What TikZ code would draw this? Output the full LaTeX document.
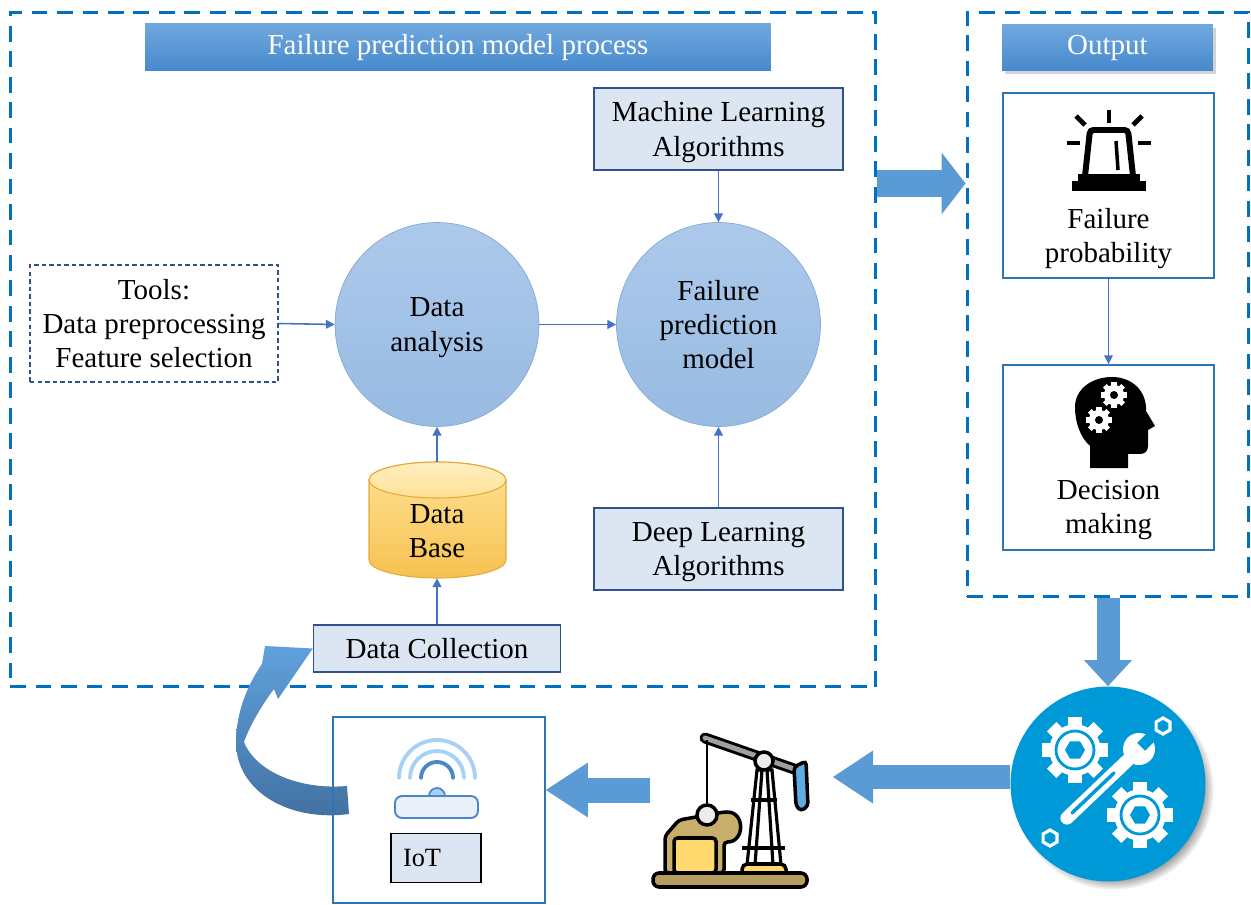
\documentclass[tikz,border=0pt]{standalone}
\usepackage{fontspec}
\setmainfont{Liberation Serif}
\usetikzlibrary{arrows.meta,shadows}

\definecolor{frameblue}{RGB}{0,112,192}
\definecolor{barTop}{RGB}{112,168,222}
\definecolor{barBot}{RGB}{70,137,205}
\definecolor{boxfill}{RGB}{220,230,242}
\definecolor{boxline}{RGB}{47,82,143}
\definecolor{ballTop}{RGB}{172,201,235}
\definecolor{ballBot}{RGB}{152,187,226}
\definecolor{ballLine}{RGB}{130,170,215}
\definecolor{linkblue}{RGB}{68,114,196}
\definecolor{fatblue}{RGB}{91,155,213}
\definecolor{outline}{RGB}{46,117,182}
\definecolor{dbTop}{RGB}{255,226,150}
\definecolor{dbBot}{RGB}{247,193,80}
\definecolor{dbLine}{RGB}{226,170,60}
\definecolor{maintblue}{RGB}{0,153,216}
\definecolor{pumptan}{RGB}{201,173,106}
\definecolor{pumpyellow}{RGB}{255,217,112}
\definecolor{horseblue}{RGB}{93,173,226}
\definecolor{wifilight}{RGB}{168,209,247}
\definecolor{wifidark}{RGB}{74,134,200}
\definecolor{curveTop}{RGB}{96,160,220}
\definecolor{curveBot}{RGB}{65,112,160}

\tikzset{
  dashframe/.style={draw=frameblue, line width=1.7pt, dash pattern=on 9pt off 5.5pt, inner sep=0pt},
  headbar/.style={top color=barTop, bottom color=barBot, text=white, inner sep=0pt},
  algobox/.style={draw=boxline, fill=boxfill, line width=0.9pt, align=center, inner sep=0pt},
  ball/.style={circle, draw=ballLine, top color=ballTop, bottom color=ballBot, minimum size=4.08cm, align=center, inner sep=0pt},
  outbox/.style={draw=outline, line width=1.1pt, minimum width=4.22cm, minimum height=3.7cm, inner sep=0pt},
  nodepth/.style={text depth=0pt},
  link/.style={linkblue, line width=0.9pt, -{Triangle[length=5pt,width=5pt]}},
  fatarrow/.style args={#1/#2/#3}{fatblue, line width=#1, -{Triangle[length=#2, width=#3, line width=0pt]}},
  cog/.pic={
    \fill (0,0) circle (0.78);
    \foreach \a in {0,45,...,315}
      \fill[rotate=\a] (-0.2,0) rectangle (0.2,1);
  },
}

\begin{document}
\begin{tikzpicture}[x=0.02cm, y=-0.02cm, font=\fontsize{16.5}{19.5}\selectfont]
\useasboundingbox (0,0) rectangle (1251,905);

% the two dashed frames and their headers
\node[dashframe, minimum width=17.32cm, minimum height=13.5cm] (proc) at (443,349.5) {};
\node[dashframe, minimum width=5.64cm, minimum height=11.7cm] (outp) at (1108,304.5) {};
\node[headbar, minimum width=12.52cm, minimum height=0.94cm] (title) at (458,47.5) {Failure prediction model process};
\node[headbar, minimum width=4.22cm, minimum height=0.92cm,
      drop shadow={shadow xshift=1.5pt, shadow yshift=-1.5pt, opacity=0.35}] (outtitle) at (1107.5,48) {Output};

% process part
\node[algobox, fill=none, dash pattern=on 2.5pt off 1.8pt, minimum width=4.96cm, minimum height=2.34cm] (tools) at (154,323.5) {Tools:\\Data preprocessing\\Feature selection};
\node[ball, nodepth] (da) at (437,324.5) {Data\\analysis};
\node[ball] (fpm) at (718.5,324.5) {Failure\\prediction\\model};
\node[algobox, nodepth, minimum width=4.98cm, minimum height=1.64cm] (ml) at (718.5,129) {Machine Learning\\Algorithms};
\node[algobox, nodepth, minimum width=4.98cm, minimum height=1.64cm] (dl) at (718.5,549) {Deep Learning\\Algorithms};
\node[algobox, minimum width=4.94cm, minimum height=0.94cm] (collect) at (437,648.5) {Data Collection};

% data base cylinder
\shadedraw[top color=dbTop, bottom color=dbBot, draw=dbLine, line width=0.6pt]
  (369,480) -- (369,560) arc[start angle=180, end angle=0, x radius=68.5, y radius=18]
  -- (506,480) arc[start angle=0, end angle=-180, x radius=68.5, y radius=18] -- cycle;
\shadedraw[top color=dbTop!60!white, bottom color=dbTop, draw=dbLine, line width=0.6pt]
  (437.5,480) ellipse[x radius=68.5, y radius=18];
\node[align=center, minimum width=2.74cm, minimum height=1.88cm, inner sep=0pt] (db) at (437,531) {Data\\Base};

\draw[link] (tools.east) -- (da.west);
\draw[link] (da) -- (fpm);
\draw[link] (ml) -- (fpm);
\draw[link] (dl) -- (fpm);
\draw[link] (collect) -- (db);
\draw[link] ([yshift=0.44cm]db.north) -- (da);

% output part
\node[outbox] (fprob) at (1108.5,185.5) {};
\node[outbox] (decide) at (1108.5,457.5) {};
\node[align=center, nodepth] (fprobtext) at (1108.5,235.5) {Failure\\probability};
\node[align=center, nodepth] (decidetext) at (1108.5,507) {Decision\\making};
\draw[link] (fprob) -- (decide);

% alarm light
\begin{scope}[line width=2.8pt]
  \draw (1109,110) -- (1109,123);
  \draw (1076,116) -- (1085,125);
  \draw (1142,116) -- (1133,125);
  \draw (1067,143) -- (1080,143);
  \draw (1138,143) -- (1151,143);
\end{scope}
\draw[line width=3.4pt, fill=white, rounded corners=2pt] (1085,176) -- (1090,130) -- (1128,130) -- (1133,176);
\draw[line width=2pt] (1116,141) -- (1118,170);
\fill (1078,174) rectangle (1140,181);
\fill (1072,181) rectangle (1146,191);

% head with cogs
\fill (1090,468) -- (1090,446)
  .. controls (1080,437) and (1075,422) .. (1075,407)
  .. controls (1075,389) and (1092,377) .. (1112,377)
  .. controls (1133,377) and (1147,392) .. (1146,411)
  -- (1155,426) -- (1148,430) -- (1148,446)
  .. controls (1148,451) and (1145,454) .. (1140,454)
  -- (1128,454) -- (1128,468) -- cycle;
\pic[white, scale=13] at (1114,395) {cog};
\pic[white, scale=13] at (1099,420) {cog};
\fill (1114,395) circle (4);
\fill (1099,420) circle (4);

% maintenance disc
\node[circle, fill=maintblue, minimum size=3.9cm, inner sep=0pt,
      circular drop shadow={shadow xshift=3pt, shadow yshift=-3pt, shadow scale=1.03}] (maint) at (1108,784) {};
\pic[white, scale=33] at (1075,750) {cog};
\pic[white, scale=33] at (1140,815) {cog};
\foreach \cx/\cy in {1075/750, 1140/815} {
  \draw[maintblue, line width=1.6pt] (\cx,\cy) circle (19);
  \fill[maintblue] (\cx,\cy) +(0:10) -- +(60:10) -- +(120:10) -- +(180:10) -- +(240:10) -- +(300:10) -- cycle;
}
\draw[white, line width=7.5pt, line cap=round] (1067,818) -- (1130,758);
\draw[maintblue, line width=2pt, line cap=round] (1072,813) -- (1114,773);
\fill[white] (1139,749) circle (16);
\fill[maintblue, shift={(1139,749)}, rotate=45] (3,-5.5) rectangle (24,5.5);
\foreach \cx/\cy in {1163/726, 1050/838}
  \draw[white, line width=1.8pt] (\cx,\cy) +(30:8) -- +(90:8) -- +(150:8) -- +(210:8) -- +(270:8) -- +(330:8) -- cycle;

% pump jack
\draw[line width=6.2pt, line cap=round] (705,738) -- (797,770);
\draw[gray!75, line width=2.8pt, line cap=round] (705,738) -- (797,770);
\draw[line width=1.2pt] (707,740) -- (707,808);
\draw[fill=horseblue, line width=2pt, rounded corners=2pt] (794,767) -- (806,761) -- (808,806) -- (801,811) -- (796,806) -- cycle;
\draw[fill=white, line width=1.8pt] (757,770) -- (762,770) -- (755,865) -- (747,865) -- cycle;
\draw[fill=white, line width=1.8pt] (767,770) -- (772,770) -- (781,865) -- (773,865) -- cycle;
\draw[line width=2.8pt] (751,800) -- (777,800);
\draw[line width=2.8pt] (742,848) -- (785,848);
\draw[fill=gray!15, line width=2pt] (764,761) circle (9);
\draw[fill=pumptan, line width=2pt, rounded corners=2pt] (665,873) -- (665,836) -- (679,820) -- (724,812)
  .. controls (745,812) and (745,842) .. (724,842) -- (724,873) -- cycle;
\draw[fill=pumpyellow, line width=2pt, rounded corners=2pt] (674,838) rectangle (716,873);
\draw[fill=gray!15, line width=2pt] (707,815) circle (10);
\draw[fill=pumpyellow, line width=2pt, rounded corners=3pt] (742,873) -- (742,864) -- (786,864) -- (786,873);
\draw[fill=pumptan!90!black, line width=2pt, rounded corners=3.5pt] (653,873) rectangle (807,887);

\coordinate (pumpR) at (833,777);
\coordinate (pumpL) at (650,790);

% block arrows
\draw[fatarrow=0.54cm/0.48cm/1.24cm] (proc.east |- 0,183.5) -- (outp.west |- 0,183.5);
\draw[fatarrow=0.46cm/0.52cm/0.96cm] (outp.south) -- (maint.north);
\draw[fatarrow=0.48cm/0.8cm/1.06cm] (maint.west |- pumpR) -- (pumpR);

% curved arrow back into the process
\shade[top color=curveTop, bottom color=curveBot]
  (349,814) .. controls (290,822) and (236,792) .. (236,742)
  .. controls (236,712) and (248,684) .. (262,664)
  -- (265,646) -- (collect.west) -- (278,699) -- (274,689)
  .. controls (262,705) and (250,725) .. (244,742)
  .. controls (256,772) and (300,790) .. (347,786) -- cycle;

% iot station
\node[draw=outline, line width=1.1pt, minimum width=4.24cm, minimum height=3.72cm] (iotframe) at (439,810) {};
\draw[fatarrow=0.5cm/0.84cm/1.1cm] (pumpL) -- (iotframe.east |- pumpL);
\draw[wifilight, line width=2.2pt, line cap=round] (399,778) arc[start angle=180, end angle=360, radius=38];
\draw[wifilight, line width=2.2pt, line cap=round] (410,778) arc[start angle=180, end angle=360, radius=27];
\draw[wifidark, line width=2.2pt, line cap=round] (421,778) arc[start angle=180, end angle=360, radius=16];
\draw[fill=wifilight, draw=wifidark, line width=1pt] (429,796) arc[start angle=180, end angle=360, radius=8] -- cycle;
\draw[fill=boxfill!60!white, draw=wifidark, line width=1.1pt, rounded corners=4pt] (395,818) -- (395,796) -- (478,796) -- (478,818) -- cycle;
\node[draw=black, fill=boxfill, line width=0.7pt, minimum height=0.98cm, text width=1.32cm, inner xsep=0.24cm,
      align=left, font=\fontsize{15}{18}\selectfont] (iot) at (436,858) {IoT};
\end{tikzpicture}
\end{document}
